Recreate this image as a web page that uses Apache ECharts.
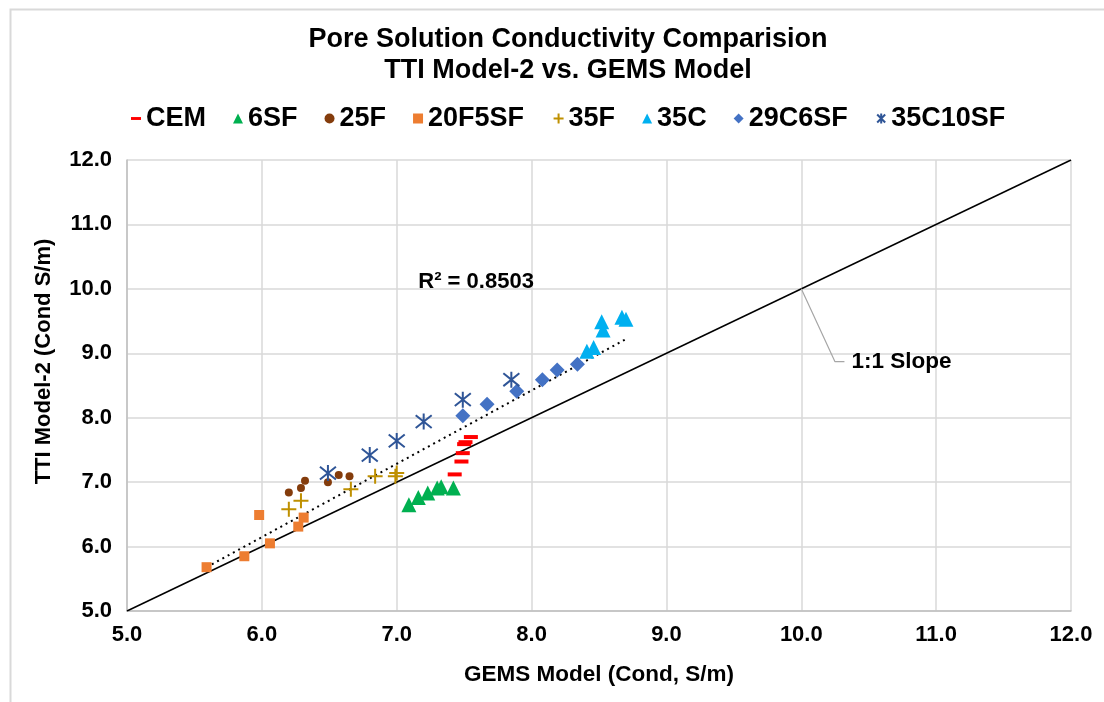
<!DOCTYPE html>
<html lang="en">
  <head>
    <meta charset="UTF-8" />
    <title>Pore Solution Conductivity Comparision</title>
    <script src="https://cdn.jsdelivr.net/npm/echarts@6/dist/echarts.min.js"></script>
  </head>
  <body style="margin: 0; background: #fff">
    <div id="main" style="width: 1104px; height: 702px"></div>
    <script type="text/javascript">
      // values (GEMS x, TTI Model-2 y)
      const cemX = [7.43, 7.48, 7.49, 7.5, 7.51, 7.55];
      const cemY = [7.12, 7.32, 7.45, 7.59, 7.62, 7.7];
      const sf6X = [7.09, 7.16, 7.23, 7.3, 7.33, 7.42];
      const sf6Y = [6.65, 6.76, 6.83, 6.91, 6.93, 6.91];
      const f25X = [6.2, 6.29, 6.32, 6.49, 6.57, 6.65];
      const f25Y = [6.84, 6.91, 7.02, 7.0, 7.11, 7.09];
      const f20sf5X = [5.59, 5.87, 6.06, 6.27, 6.31, 5.98];
      const f20sf5Y = [5.68, 5.85, 6.05, 6.31, 6.45, 6.49];
      const f35X = [6.2, 6.29, 6.66, 6.84, 6.99, 7.0];
      const f35Y = [6.58, 6.71, 6.89, 7.09, 7.09, 7.14];
      const c35X = [8.41, 8.46, 8.53, 8.52, 8.67, 8.7];
      const c35Y = [9.03, 9.09, 9.36, 9.49, 9.56, 9.53];
      const c29sf6X = [7.49, 7.67, 7.89, 8.08, 8.19, 8.34];
      const c29sf6Y = [8.03, 8.21, 8.41, 8.59, 8.74, 8.83];
      const c35sf10X = [6.49, 6.8, 7.0, 7.2, 7.49, 7.85];
      const c35sf10Y = [7.14, 7.42, 7.64, 7.94, 8.28, 8.59];

      // linear trendline ends and the 1:1 line
      const trendX = [5.59, 8.7];
      const trendY = [5.68, 9.22];
      const oneToOne = [5, 12];
      const r2Text = "R² = 0.8503";

      const axisTicks = ["5.0", "6.0", "7.0", "8.0", "9.0", "10.0", "11.0", "12.0"];

      const pairs = (xs, ys) => xs.map((x, i) => [x, ys[i]]);
      const FONT = "Liberation Sans, Arial, sans-serif";

      const plusPath = "path://M0,5L10,5M5,0L5,10";
      const starPath = "path://M1,1L9,9M9,1L1,9M5,0L5,10";
      const dashIcon = "path://M0,0L12,0L12,3.5L0,3.5Z";

      function scatter(name, xs, ys, symbol, size, color, stroke) {
        const s = {
          name: name,
          type: "scatter",
          data: pairs(xs, ys),
          symbol: symbol,
          symbolSize: size,
          itemStyle: { color: color, opacity: 1 },
          z: 5,
        };
        if (stroke) {
          s.itemStyle = { color: "none", borderColor: color, borderWidth: 2, opacity: 1 };
        }
        return s;
      }

      let myChart = echarts.init(document.getElementById("main"));

      let options = {
        animation: false,
        backgroundColor: "#fff",
        textStyle: { fontFamily: FONT },
        title: {
          text: "Pore Solution Conductivity Comparision\nTTI Model-2 vs. GEMS Model",
          left: 563,
          textAlign: "center",
          top: 19,
          textStyle: {
            fontFamily: FONT,
            fontSize: 27,
            fontWeight: "bold",
            color: "#000",
            lineHeight: 31,
          },
        },
        legend: {
          top: 100,
          left: 126,
          itemGap: 27,
          itemWidth: 10,
          itemHeight: 10,
          textStyle: {
            fontFamily: FONT,
            fontSize: 27,
            fontWeight: "bold",
            color: "#000",
          },
          data: [
            { name: "CEM", icon: dashIcon },
            { name: "6SF" },
            { name: "25F" },
            { name: "20F5SF" },
            { name: "35F" },
            { name: "35C" },
            { name: "29C6SF" },
            { name: "35C10SF" },
          ],
        },
        grid: { left: 127, top: 160, width: 944, height: 451 },
        xAxis: {
          type: "value",
          min: 5,
          max: 12,
          interval: 1,
          name: "GEMS Model (Cond, S/m)",
          nameLocation: "middle",
          nameGap: 52,
          nameTextStyle: { fontFamily: FONT, fontSize: 22.5, fontWeight: "bold", color: "#000" },
          axisLine: { lineStyle: { color: "#bfbfbf", width: 1.5 } },
          axisTick: { show: false },
          axisLabel: {
            margin: 13,
            fontFamily: FONT,
            fontSize: 22,
            fontWeight: "bold",
            color: "#000",
            formatter: (v) => axisTicks[Math.round(v - 5)],
          },
          splitLine: { lineStyle: { color: "#d9d9d9", width: 1.5 } },
        },
        yAxis: {
          type: "value",
          min: 5,
          max: 12,
          interval: 1,
          name: "TTI Model-2 (Cond S/m)",
          nameLocation: "middle",
          nameGap: 72,
          nameTextStyle: {
            fontFamily: FONT,
            fontSize: 22,
            fontWeight: "bold",
            color: "#000",
            padding: [0, 0, 0, 48],
          },
          axisLine: { show: true, lineStyle: { color: "#bfbfbf", width: 1.5 } },
          axisTick: { show: false },
          axisLabel: {
            margin: 15,
            fontFamily: FONT,
            fontSize: 22,
            fontWeight: "bold",
            color: "#000",
            formatter: (v) => axisTicks[Math.round(v - 5)],
          },
          splitLine: { lineStyle: { color: "#d9d9d9", width: 1.5 } },
        },
        series: [
          {
            name: "1:1",
            type: "line",
            data: pairs(oneToOne, oneToOne),
            symbol: "none",
            lineStyle: { color: "#000", width: 1.5 },
            z: 3,
          },
          {
            name: "1:1 label",
            type: "line",
            data: [
              [10, 10],
              [10.25, 8.87],
              [10.32, 8.87],
            ],
            symbol: "none",
            lineStyle: { color: "#a6a6a6", width: 1.2 },
            endLabel: {
              show: true,
              formatter: "1:1 Slope",
              distance: 7,
              fontFamily: FONT,
              fontSize: 22.5,
              fontWeight: "bold",
              color: "#000",
            },
            z: 3,
          },
          {
            name: "trend",
            type: "line",
            data: pairs(trendX, trendY),
            symbol: "none",
            lineStyle: { color: "#000", width: 2, type: [2, 4] },
            z: 4,
          },
          {
            name: "r2",
            type: "scatter",
            data: [[7.16, 10.11]],
            symbolSize: 0,
            itemStyle: { opacity: 1 },
            label: {
              show: true,
              position: "right",
              distance: 0,
              formatter: r2Text,
              fontFamily: FONT,
              fontSize: 22,
              fontWeight: "bold",
              color: "#000",
            },
          },
          scatter("CEM", cemX, cemY, "rect", [14, 4], "#ff0000"),
          scatter("6SF", sf6X, sf6Y, "triangle", 15, "#00b050"),
          scatter("25F", f25X, f25Y, "circle", 8, "#843c0c"),
          scatter("20F5SF", f20sf5X, f20sf5Y, "rect", 10, "#ed7d31"),
          scatter("35F", f35X, f35Y, plusPath, 15, "#bf9000", true),
          scatter("35C", c35X, c35Y, "triangle", 15, "#00b0f0"),
          scatter("29C6SF", c29sf6X, c29sf6Y, "diamond", 15, "#4472c4"),
          scatter("35C10SF", c35sf10X, c35sf10Y, starPath, 16, "#2f5597", true),
        ],
        graphic: [
          {
            type: "rect",
            left: 8,
            top: 7,
            shape: { width: 1200, height: 800 },
            style: { fill: "none", stroke: "#d9d9d9", lineWidth: 2 },
            silent: true,
          },
        ],
      };

      myChart.setOption(options);
    </script>
  </body>
</html>
